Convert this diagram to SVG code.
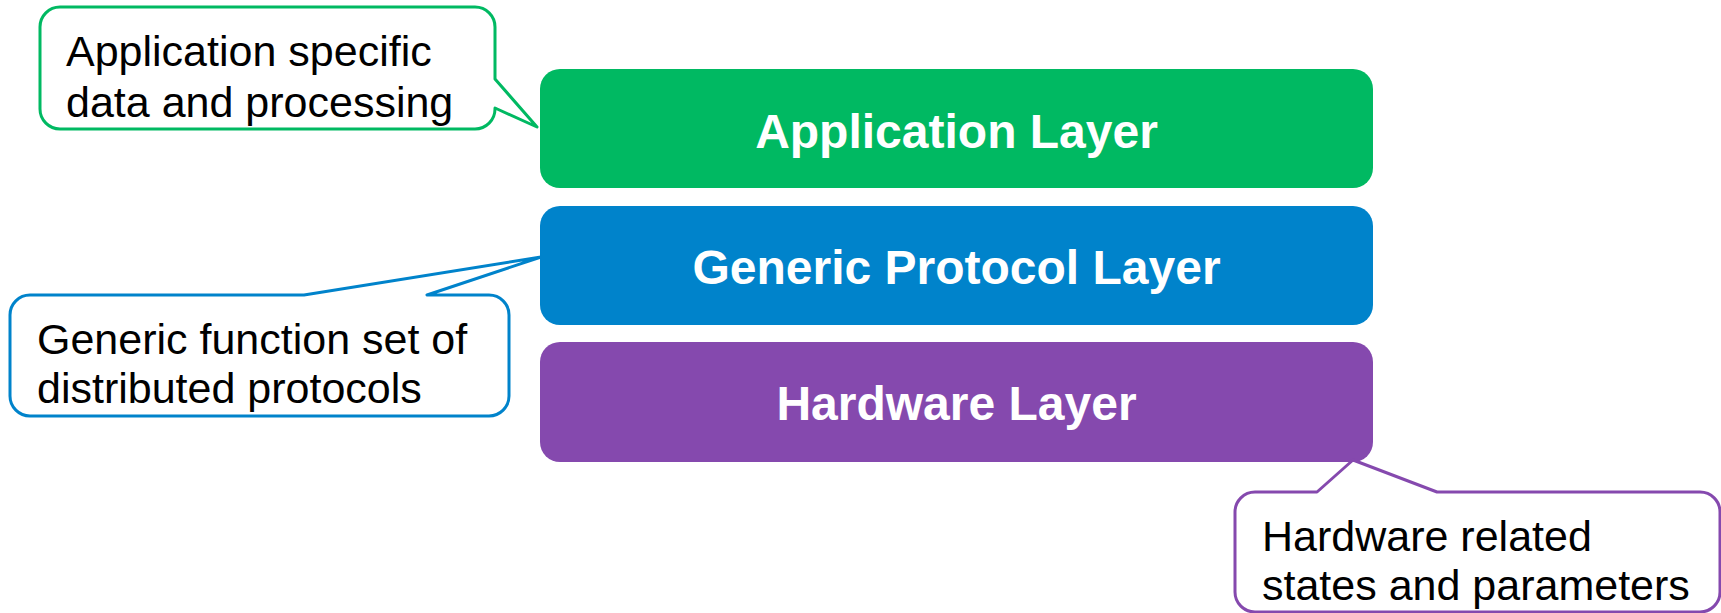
<svg xmlns="http://www.w3.org/2000/svg" width="1721" height="613" viewBox="0 0 1721 613">
  <style>
    .layer-label { font-family: "Liberation Sans", Arial, sans-serif; font-weight: bold; font-size: 48px; fill: #ffffff; text-anchor: middle; }
    .note-text { font-family: "Liberation Sans", Arial, sans-serif; font-size: 43px; fill: #000000; }
    .note { fill: #ffffff; stroke-width: 3; stroke-linejoin: round; }
  </style>
  <rect width="1721" height="613" fill="#ffffff"/>

  <!-- protocol stack layers -->
  <g id="application-layer">
    <rect x="540" y="69" width="833" height="119" rx="20" fill="#00B962"/>
    <text class="layer-label" x="956.5" y="148">Application Layer</text>
  </g>
  <g id="generic-protocol-layer">
    <rect x="540" y="206" width="833" height="119" rx="20" fill="#0083CB"/>
    <text class="layer-label" x="956.5" y="284">Generic Protocol Layer</text>
  </g>
  <g id="hardware-layer">
    <rect x="540" y="342" width="833" height="120" rx="20" fill="#8549AE"/>
    <text class="layer-label" x="956.5" y="420">Hardware Layer</text>
  </g>

  <!-- callout balloons; each tail points at its layer -->
  <g id="connectors">
    <g id="note-application">
      <path class="note" stroke="#00B962" d="M60,7 H475 A20,20 0 0 1 495,27 V79 L537,127 L495,108 V109 A20,20 0 0 1 475,129 H60 A20,20 0 0 1 40,109 V27 A20,20 0 0 1 60,7 Z"/>
      <text class="note-text" x="66" y="66">Application specific</text>
      <text class="note-text" x="66" y="117">data and processing</text>
    </g>
    <g id="note-protocol">
      <path class="note" stroke="#0083CB" d="M30,295 H304 L541,257 L427,295 H489 A20,20 0 0 1 509,315 V396 A20,20 0 0 1 489,416 H30 A20,20 0 0 1 10,396 V315 A20,20 0 0 1 30,295 Z"/>
      <text class="note-text" x="37" y="354">Generic function set of</text>
      <text class="note-text" x="37" y="403">distributed protocols</text>
    </g>
    <g id="note-hardware">
      <path class="note" stroke="#8549AE" d="M1255,492 H1317 L1353,460 L1437,492 H1700 A20,20 0 0 1 1720,512 V592 A20,20 0 0 1 1700,612 H1255 A20,20 0 0 1 1235,592 V512 A20,20 0 0 1 1255,492 Z"/>
      <text class="note-text" x="1262" y="551">Hardware related</text>
      <text class="note-text" x="1262" y="600">states and parameters</text>
    </g>
  </g>
</svg>
